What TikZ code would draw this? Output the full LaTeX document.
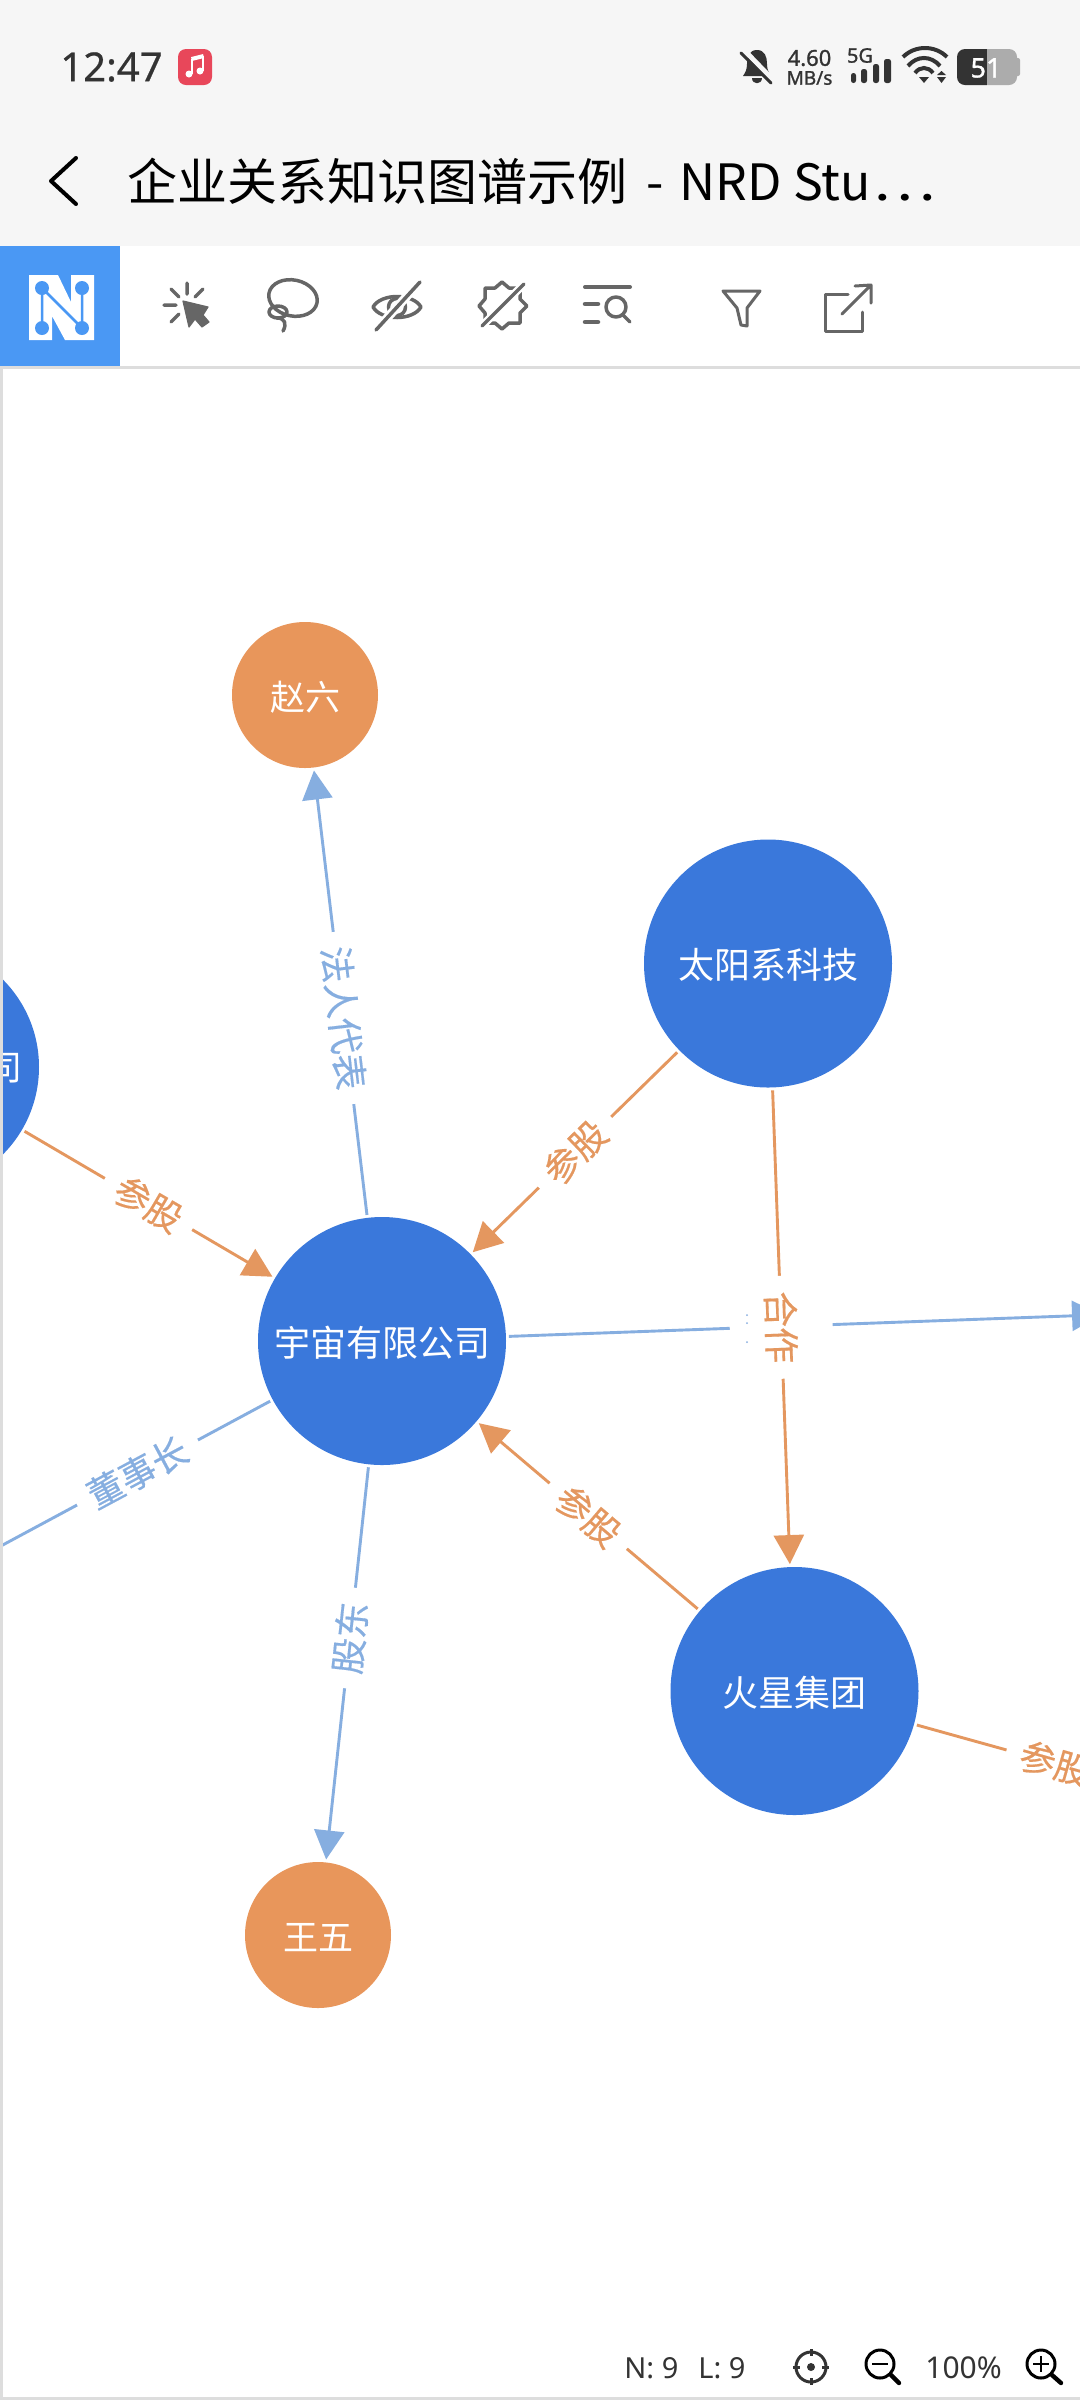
\documentclass[tikz,border=0pt]{standalone}
\usepackage{fontspec}
\setmainfont{Noto Sans CJK SC}
\newfontfamily\latinf{Noto Sans}
\newfontfamily\clockf[FakeBold=0.6]{Noto Sans}
\newfontfamily\statusf[FakeBold=1.2]{Noto Sans}
\newfontfamily\labelf[FakeBold=0.4]{Noto Sans CJK SC}
\usetikzlibrary{arrows.meta}
\definecolor{nodeblue}{HTML}{3A78DB}
\definecolor{nodeorange}{HTML}{E8965B}
\definecolor{edgeblue}{HTML}{86AEE0}
\definecolor{edgeorange}{HTML}{E4975F}
\definecolor{barbg}{HTML}{F6F6F6}
\definecolor{logoblue}{HTML}{4A98F4}
\definecolor{icongray}{HTML}{666666}
\definecolor{rulegray}{HTML}{DDDDDD}
\definecolor{statusdark}{HTML}{333333}
\definecolor{musicred}{HTML}{E8475A}
\newcommand\fpx[1]{\fontsize{#1}{#1}\selectfont}
\tikzset{
  bignode/.style={circle,fill=nodeblue,minimum size=124pt,inner sep=0pt,text=white,font=\fpx{18pt},text height=15pt,text depth=0pt},
  smallnode/.style={circle,fill=nodeorange,minimum size=73pt,inner sep=0pt,text=white,font=\fpx{17.5pt},text height=15pt,text depth=0pt},
  edgebase/.style={line width=1.45pt},
  tipped/.style={-{Triangle[length=14.5pt,width=15pt]}},
  blueedge/.style={edgebase,draw=edgeblue},
  orangeedge/.style={edgebase,draw=edgeorange},
  elabel/.style={fill=white,inner xsep=7.25pt,inner ysep=6pt,font=\labelf\fpx{18pt},anchor=center},
  fromBig/.style={shorten <=63.5pt},
  toBig/.style={shorten >=63.5pt},
  toSmall/.style={shorten >=38pt},
  icon/.style={draw=icongray,line width=1.75pt,line cap=round,line join=round},
  ui/.style={text=statusdark,inner sep=0pt,font=\latinf\fpx{14.5pt}},
  status/.style={text=statusdark,inner sep=0pt},
}
\begin{document}
\begin{tikzpicture}[x=0.5pt,y=-0.5pt]
\useasboundingbox (0,0) rectangle (1080,2400);
\clip (0,0) rectangle (1080,2400);
\fill[white] (0,0) rectangle (1080,2400);
% top bars
\fill[barbg] (0,0) rectangle (1080,246);
\fill[rulegray] (0,366) rectangle (1080,369);
% status bar
\node[status,anchor=west,font=\clockf\fpx{20pt}] (clock) at (60,67) {12:47};
\fill[musicred,rounded corners=4pt] (178,49) rectangle (212,85);
\fill[white] (189,74) circle (3.5);
\fill[white] (200,71) circle (3.5);
\draw[white,line width=1.1pt] (192,74) -- (192,59);
\draw[white,line width=1.1pt] (203,71) -- (203,56);
\draw[white,line width=2pt] (191.5,59) -- (203.5,56);
% bell
\fill[statusdark] (757,50) .. controls (749,50) and (747,57) .. (747,64) .. controls (747,70) and (745,73) .. (743,76) -- (771,76) .. controls (769,73) and (767,70) .. (767,64) .. controls (767,57) and (765,50) .. (757,50) -- cycle;
\fill[statusdark] (752,78) .. controls (752,85) and (762,85) .. (762,78) -- cycle;
\draw[barbg,line width=2.5pt] (744,50) -- (772,79);
\draw[statusdark,line width=1.5pt,line cap=round] (741,53) -- (771,83);
\node[status,font=\statusf\fpx{11pt}] (speed) at (809.5,58) {4.60};
\node[status,font=\statusf\fpx{9.5pt}] (unit) at (809.5,78) {MB/s};
\node[status,font=\statusf\fpx{10pt}] (fiveg) at (860,55.5) {5G};
\fill[statusdark,rounded corners=1.2pt] (851,73) rectangle (856,83);
\fill[statusdark,rounded corners=1.2pt] (861,69) rectangle (867,83);
\fill[statusdark,rounded corners=1.2pt] (873,64) rectangle (879,83);
\fill[statusdark,rounded corners=1.2pt] (884,59) rectangle (891,83);
\draw[statusdark,line width=2pt] (903,57) .. controls (915,45) and (935,45) .. (947,57);
\draw[statusdark,line width=2pt] (908,66) .. controls (917,55.3) and (931,55.3) .. (940,66);
\draw[statusdark,line width=2pt] (915,73) .. controls (920,66.3) and (928,66.3) .. (933,73);
\fill[statusdark] (919,77) -- (929,77) -- (924,83) -- cycle;
\fill[statusdark] (937,75) -- (946,75) -- (941.5,71) -- cycle;
\fill[statusdark] (937,77) -- (946,77) -- (941.5,83) -- cycle;
\fill[statusdark,rounded corners=4pt] (957,49) rectangle (995,85);
\fill[gray!65,rounded corners=4pt] (980,49) rectangle (1017,85);
\fill[statusdark] (975,49) rectangle (987,85);
\fill[gray!65,rounded corners=1pt] (1015,58) rectangle (1020,76);
\node[status,text=white,font=\statusf\fpx{13.5pt}] (batt) at (986,68) {51};
% title bar
\draw[black,line width=2pt,line cap=round,line join=round] (76,158) -- (51,181) -- (76,204);
\node[anchor=west,inner sep=0pt,text=black,font=\fpx{25pt}] (title) at (127,181) {企业关系知识图谱示例\hspace{9.5pt}-\hspace{8pt}NRD Stu\hspace{1pt}\scalebox{1.2}[1]{⋯}};
% logo
\fill[logoblue] (0,246) rectangle (120,366);
\fill[white] (29,275) -- (58,275) -- (71,302) -- (71,275) -- (94,275) -- (94,340) -- (65,340) -- (52,316) -- (52,340) -- (29,340) -- cycle;
\draw[logoblue,line width=1.25pt] (42,288) -- (42,328) (42,288) -- (82,328) (82,288) -- (82,328);
\foreach \lx/\ly in {42/288,82/288,42/328,82/328}{\fill[logoblue] (\lx,\ly) circle (7);}
% cursor icon
\fill[icongray,draw=icongray,line width=.6pt,line join=round] (183,301) -- (208,307) -- (203,315) -- (209,322) -- (202,327) -- (195,319) -- (189,327) -- cycle;
\draw[icon] (187,283) -- (187,294) (171,289) -- (179,297) (203,289) -- (195,297) (164,305) -- (176,305) (171,322) -- (179,314);
% lasso
\draw[icon,rotate around={-12:(293,298)}] (293,298) ellipse [x radius=24.5,y radius=18];
\draw[icon] (278,312) ellipse [x radius=9,y radius=6];
\draw[icon] (277,318) .. controls (285,318) and (287,324) .. (283,331);
% eye
\draw[icon] (373,307) .. controls (381,293) and (413,293) .. (421,307) .. controls (413,321) and (381,321) .. (373,307) -- cycle;
\draw[icon] (397,307) circle (8.5);
\draw[white,line width=4.5pt] (378,328) -- (418,284);
\draw[icon] (376,330) -- (420,282);
% badge
\draw[icon] (502,282) -- (509,288) -- (520,288) -- (520,299) -- (527,306) -- (520,313) -- (520,323) -- (509,323) -- (502,329) -- (495,323) -- (485,323) -- (485,313) -- (479,306) -- (485,299) -- (485,288) -- (495,288) -- cycle;
\draw[white,line width=4pt] (484,324) -- (522,286);
\draw[icon] (482,326) -- (524,284);
% list search
\draw[icon,line width=2pt] (585,287) -- (630,287);
\draw[icon,line width=2.25pt] (585,304) -- (598,304) (585,322) -- (598,322);
\draw[icon] (616,307) circle (10);
\draw[icon] (623,315) -- (630,322);
% filter
\draw[icon,line width=1.5pt] (723,291) -- (760,291) -- (747,308) -- (747,326) -- (741,325) -- (737,308) -- cycle;
% external
\draw[icon,line width=1.5pt] (848,294) -- (825,294) -- (825,331) -- (862,331) -- (862,312);
\draw[icon,line width=1.5pt] (842,314) -- (871,285) (855,286) -- (871,285) -- (871,303);
% graph nodes
\node[smallnode] (zhao) at (305,695) {赵六};
\node[bignode] (sun) at (768,963.5) {太阳系科技};
\node[bignode] (yz) at (382,1341) {宇宙有限公司};
\node[bignode] (mars) at (794.5,1691) {火星集团};
\node[smallnode] (wang) at (318,1935) {王五};
\node[bignode] (west) at (-85,1067) {};
\node[text=white,inner sep=0pt,font=\fpx{17.5pt}] (westtxt) at (5,1068) {司};
\coordinate (hiddenE) at (1177,1312);
\coordinate (hiddenSE) at (1316,1836);
\coordinate (hiddenW) at (-107,1604);
% edges
\draw[blueedge,tipped,fromBig,toSmall] (yz.center) -- node[elabel,text=edgeblue,rotate=-83.4] (l1) {法人代表} (zhao.center);
\draw[blueedge,tipped,fromBig,toSmall] (yz.center) -- node[elabel,text=edgeblue,rotate=83.9] (l2) {股东} (wang.center);
\draw[blueedge,fromBig] (yz.center) -- node[elabel,text=edgeblue,rotate=28.2] (l3) {董事长} (hiddenW);
\draw[blueedge,tipped,fromBig,toSmall] (yz.center) -- (hiddenE);
\draw[orangeedge,tipped,fromBig,toBig] (west.center) -- node[elabel,text=edgeorange,rotate=-30.3] (l4) {参股} (yz.center);
\draw[orangeedge,tipped,fromBig,toBig] (sun.center) -- node[elabel,text=edgeorange,rotate=44.4] (l5) {参股} (yz.center);
\draw[orangeedge,tipped,fromBig,toBig] (mars.center) -- node[elabel,text=edgeorange,rotate=-40.3] (l6) {参股} (yz.center);
\draw[orangeedge,tipped,fromBig,toBig] (sun.center) -- node[elabel,text=edgeorange,rotate=-88,minimum width=51.5pt,minimum height=51.5pt] (l7) {合作} (mars.center);
\draw[orangeedge,fromBig] (mars.center) -- node[elabel,text=edgeorange,rotate=-15.9] (l8) {参股} (hiddenSE);
\fill[edgeblue] (747,1315) circle (1) (747,1323) circle (1) (747,1342) circle (1);
% page rules
\fill[rulegray] (0,369) rectangle (3,2400);
\fill[rulegray] (0,2397) rectangle (1080,2400);
% bottom bar
\node[ui,anchor=west] (nc) at (624,2368) {N: 9};
\node[ui,anchor=west] (lc) at (698,2368) {L: 9};
\node[ui,anchor=west,font=\latinf\fpx{15pt}] (pct) at (925,2368) {100\%};
\draw[statusdark,line width=1.5pt] (811,2367) circle (15);
\draw[statusdark,line width=1.5pt] (811,2349) -- (811,2356) (811,2378) -- (811,2385) (793,2367) -- (800,2367) (822,2367) -- (829,2367);
\fill[statusdark] (811,2367) circle (4);
\draw[black,line width=1.5pt] (880,2364) circle (14);
\draw[black,line width=1.3pt] (872,2364) -- (888,2364);
\draw[black,line width=2.2pt,line cap=round] (891,2375) -- (899,2383);
\draw[black,line width=1.5pt] (1041,2364) circle (14);
\draw[black,line width=1.3pt] (1033,2364) -- (1049,2364) (1041,2356) -- (1041,2372);
\draw[black,line width=2.2pt,line cap=round] (1052,2375) -- (1061,2383);
\end{tikzpicture}
\end{document}
